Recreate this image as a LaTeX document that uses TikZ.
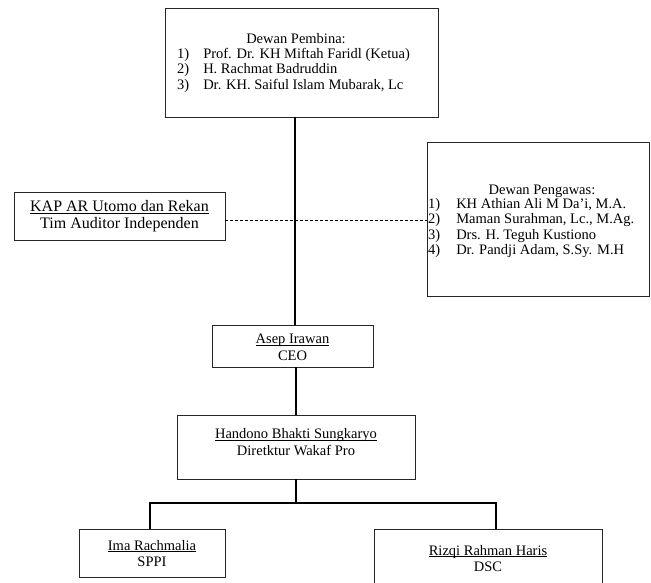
\documentclass[tikz,border=0pt]{standalone}
\usepackage{fontspec}
\setmainfont{Liberation Serif}
\newcommand\myul[1]{\underline{\smash{#1}}}
\tikzset{
  box/.style={draw=black!85, line width=0.9pt, rectangle, inner sep=0pt},
  txt/.style={font=\fontsize{14.5}{16.5}\selectfont, inner sep=0pt, align=center},
  lst/.style={font=\fontsize{14.5}{15.5}\selectfont, inner sep=0pt, anchor=north west, align=left},
  conn/.style={line width=2pt},
  dash line/.style={line width=0.8pt, dash pattern=on 3pt off 2pt}
}
\begin{document}
\begin{tikzpicture}[x=1pt,y=-1pt]
\clip (0,0) rectangle (651,583);
\fill[white] (0,0) rectangle (651,583);
% boxes
\node[box, minimum width=273pt, minimum height=109pt] (pembina) at (301.5,62.5) {};
\node[box, minimum width=211pt, minimum height=48pt] (kap) at (119.5,216) {};
\node[box, minimum width=222pt, minimum height=154pt] (pengawas) at (538,219) {};
\node[box, minimum width=161pt, minimum height=42pt] (ceo) at (292.5,346) {};
\node[box, minimum width=238pt, minimum height=64pt] (handono) at (296,447) {};
\node[box, minimum width=146pt, minimum height=48pt] (ima) at (152,553) {};
\node[box, minimum width=228pt, minimum height=62pt] (rizqi) at (488,560) {};
% texts
\node[txt] (pembinaT) at (296,39) {Dewan Pembina:};
\node[lst] (pembinaL) at (177,47) {\begin{tabular}{@{}l@{\hspace{14pt}}l@{}}
1) & Prof. Dr. KH Miftah Faridl (Ketua)\\
2) & H. Rachmat Badruddin\\
3) & Dr. KH. Saiful Islam Mubarak, Lc
\end{tabular}};
\node[txt, font=\fontsize{16}{17}\selectfont] (kapT) at (119.5,222) {\myul{KAP AR Utomo dan Rekan}\\Tim Auditor Independen};
\node[txt] (pengawasT) at (542,191) {Dewan Pengawas:};
\node[lst] (pengawasL) at (428,197) {\begin{tabular}{@{}l@{\hspace{16pt}}l@{}}
1) & KH Athian Ali M Da'i, M.A.\\
2) & Maman Surahman, Lc., M.Ag.\\
3) & Drs. H. Teguh Kustiono\\
4) & Dr. Pandji Adam, S.Sy. M.H
\end{tabular}};
\node[txt] (ceoT) at (292.5,352) {\myul{Asep Irawan}\\CEO};
\node[txt] (handonoT) at (296,447) {\myul{Handono Bhakti Sungkaryo}\\Diretktur Wakaf Pro};
\node[txt] (imaT) at (152,558.5) {\myul{Ima Rachmalia}\\SPPI};
\node[txt] (rizqiT) at (488,563.5) {\myul{Rizqi Rahman Haris}\\DSC};
% connector helpers
\coordinate (spA) at (295,0);
\coordinate (spB) at (296,0);
\coordinate (junc) at (296,503);
\coordinate (imaX) at (150,0);
\coordinate (rizX) at (496,0);
\coordinate (dashY) at (0,220);
% connectors
\draw[conn] (pembina.south -| spA) -- (ceo.north -| spA);
\draw[conn] (ceo.south -| spB) -- (handono.north -| spB);
\draw[conn] (handono.south -| spB) -- (junc);
\draw[conn] (ima.north -| imaX) |- (junc) -| (rizqi.north -| rizX);
\draw[dash line] (kap.east |- dashY) -- (pengawas.west |- dashY);
\end{tikzpicture}
\end{document}
